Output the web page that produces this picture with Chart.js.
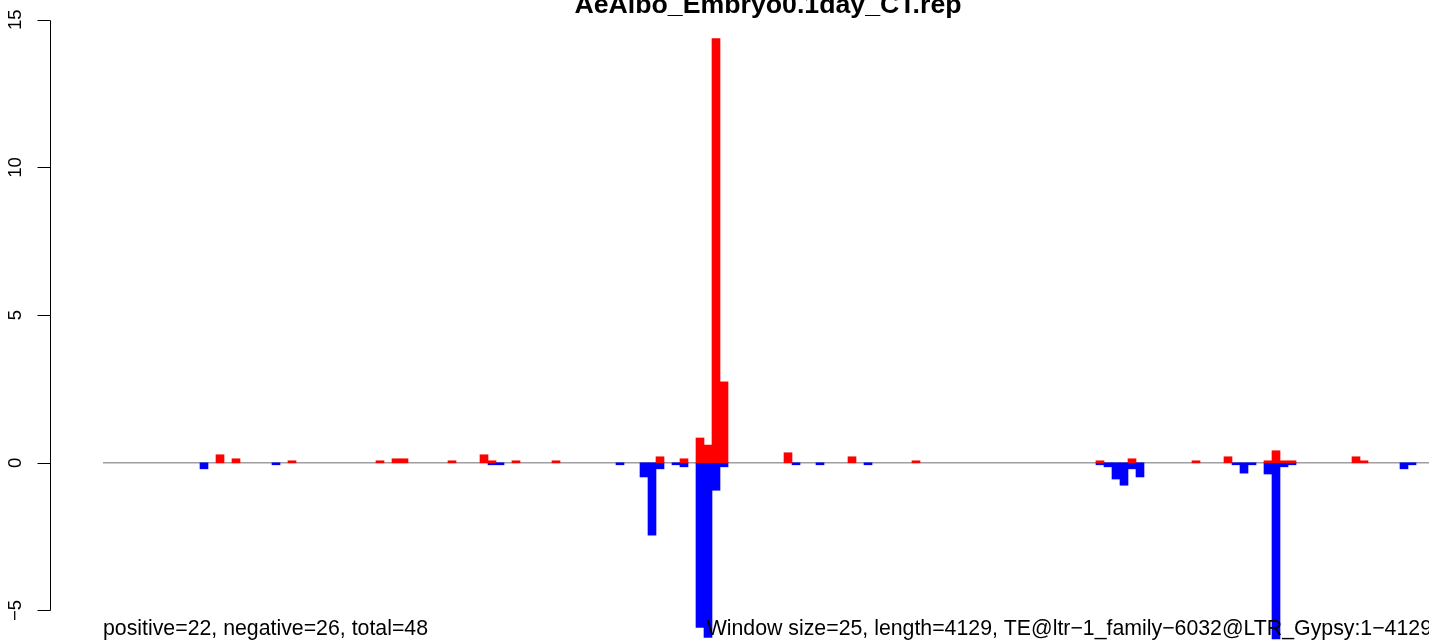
<!DOCTYPE html>
<html>
<head>
<meta charset="utf-8">
<title>AeAlbo_Embryo0.1day_CT.rep</title>
<script src="https://cdn.jsdelivr.net/npm/chart.js@4.4.1/dist/chart.umd.min.js"></script>
<style>
  html, body { margin: 0; padding: 0; background: #fff; overflow: hidden; }
  #wrap { width: 1440px; height: 641px; }
</style>
</head>
<body>
<div id="wrap"><canvas id="chart" width="1440" height="641"></canvas></div>
<script>
// chart texts
const chartTitle = 'AeAlbo_Embryo0.1day_CT.rep';
const leftNote = 'positive=22, negative=26, total=48';
const rightNote = 'Window size=25, length=4129, TE@ltr\u22121_family\u22126032@LTR_Gypsy:1\u22124129';

// 4129 bp in windows of 25 -> 166 windows
const windowCount = 166;
const yTicks = [-5, 0, 5, 10, 15];

// non-empty windows (0-based index) and their values
const posBins = [14, 16, 23, 34, 36, 37, 43, 47, 48, 51, 56, 69, 72, 74, 75, 76, 77,
  85, 93, 101, 124, 128, 136, 140, 145, 146, 147, 148, 156, 157];
const posValues = [0.272, 0.136, 0.068, 0.068, 0.136, 0.136, 0.068, 0.272, 0.068, 0.068, 0.068,
  0.204, 0.136, 0.84, 0.6, 14.36, 2.74, 0.34, 0.204, 0.068, 0.068, 0.136, 0.068, 0.204,
  0.068, 0.408, 0.068, 0.068, 0.204, 0.068];

const negBins = [12, 21, 48, 49, 64, 67, 68, 69, 71, 72, 74, 75, 76, 77, 86, 89, 95,
  124, 125, 126, 127, 128, 129, 141, 142, 143, 145, 146, 147, 148, 162, 163];
const negValues = [-0.204, -0.068, -0.068, -0.068, -0.068, -0.48, -2.45, -0.204, -0.068,
  -0.136, -5.57, -5.91, -0.93, -0.136, -0.068, -0.068, -0.068, -0.068, -0.136, -0.55,
  -0.76, -0.204, -0.48, -0.068, -0.35, -0.068, -0.38, -5.96, -0.136, -0.068, -0.204, -0.068];

const FONT = '"Liberation Sans", Arial, Helvetica, sans-serif';

function fillWindows(bins, values){
  const out = new Array(windowCount).fill(null);
  bins.forEach((b, i) => { out[b] = values[i]; });
  return out;
}

const labels = [];
for (let i = 1; i <= windowCount; i++) labels.push(String(i));

function fmtTick(v){
  return v < 0 ? '\u2212' + Math.abs(v) : String(v);
}

// R-style decorations: zero line, detached y axis, title and margin notes
const rStyle = {
  id: 'rStyle',
  beforeDatasetsDraw(chart){
    const { ctx, chartArea, scales } = chart;
    const y0 = scales.y.getPixelForValue(0);
    ctx.save();
    ctx.strokeStyle = '#9e9e9e';
    ctx.lineWidth = 1.5;
    ctx.beginPath();
    ctx.moveTo(chartArea.left - 1, y0);
    ctx.lineTo(chartArea.right, y0);
    ctx.stroke();
    ctx.restore();
  },
  afterDraw(chart){
    const { ctx, chartArea, scales } = chart;
    const ys = scales.y;
    const axisX = 50.5;
    ctx.save();
    ctx.strokeStyle = '#000';
    ctx.lineWidth = 1;
    ctx.beginPath();
    ctx.moveTo(axisX, Math.round(ys.getPixelForValue(yTicks[0])) + 0.5);
    ctx.lineTo(axisX, Math.round(ys.getPixelForValue(yTicks[yTicks.length - 1])) + 0.5);
    yTicks.forEach(v => {
      const py = Math.round(ys.getPixelForValue(v)) + 0.5;
      ctx.moveTo(axisX, py);
      ctx.lineTo(axisX - 13, py);
    });
    ctx.stroke();

    ctx.fillStyle = '#000';
    ctx.font = '18.5px ' + FONT;
    ctx.textAlign = 'center';
    ctx.textBaseline = 'alphabetic';
    yTicks.forEach(v => {
      const py = ys.getPixelForValue(v);
      ctx.save();
      ctx.translate(20.5, py);
      ctx.rotate(-Math.PI / 2);
      ctx.fillText(fmtTick(v), 0, 0);
      ctx.restore();
    });

    ctx.font = 'bold 26.7px ' + FONT;
    ctx.textAlign = 'center';
    ctx.fillText(chartTitle, (chartArea.left + chartArea.right) / 2, 13);

    ctx.font = '21.3px ' + FONT;
    ctx.textAlign = 'left';
    ctx.fillText(leftNote, chartArea.left - 1, 635);
    ctx.textAlign = 'right';
    ctx.fillText(rightNote, chartArea.right, 635);
    ctx.restore();
  }
};

const ctx = document.getElementById('chart').getContext('2d');
const chart = new Chart(ctx, {
  type: 'bar',
  data: {
    labels: labels,
    datasets: [
      { label: 'positive', data: fillWindows(posBins, posValues), backgroundColor: '#ff0000',
        borderWidth: 0, barPercentage: 1, categoryPercentage: 1 },
      { label: 'negative', data: fillWindows(negBins, negValues), backgroundColor: '#0000ff',
        borderWidth: 0, barPercentage: 1, categoryPercentage: 1 }
    ]
  },
  options: {
    responsive: false,
    animation: false,
    devicePixelRatio: 1,
    layout: { padding: { left: 104, right: 8, top: 5, bottom: 1 } },
    plugins: { legend: { display: false }, tooltip: { enabled: false }, title: { display: false } },
    scales: {
      x: { stacked: true, display: false, grid: { display: false } },
      y: { stacked: true, display: false, min: -6, max: 15.5, grid: { display: false } }
    }
  },
  plugins: [rStyle]
});
</script>
</body>
</html>
